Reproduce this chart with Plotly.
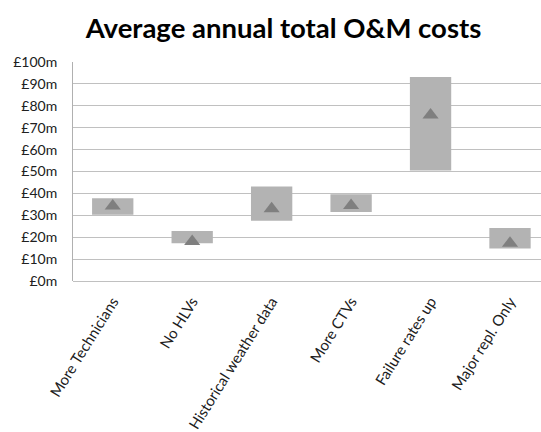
import plotly.graph_objects as go

# Scenario names and cost ranges (in £m)
scenarios = ["More Technicians", "No HLVs", "Historical weather data",
             "More CTVs", "Failure rates up", "Major repl. Only"]
cost_low = [30.3, 17.2, 27.5, 31.5, 50.4, 14.8]
cost_high = [37.8, 22.8, 43.1, 39.6, 93.2, 24.2]
cost_mean = [34.2, 18.0, 33.0, 34.5, 75.8, 17.2]

y_ticks = [0, 10, 20, 30, 40, 50, 60, 70, 80, 90, 100]
y_tick_text = [f"£{v}m" for v in y_ticks]

span = [h - l for h, l in zip(cost_high, cost_low)]

fig = go.Figure()
fig.add_trace(go.Bar(
    x=scenarios, y=span, base=cost_low, width=0.52,
    marker=dict(color="#b3b3b3", line=dict(width=0)),
    hoverinfo="skip",
))
fig.add_trace(go.Scatter(
    x=scenarios, y=cost_mean, mode="markers",
    marker=dict(symbol="triangle-up", size=14, color="#7f7f7f",
                line=dict(width=0)),
))

font_family = "Lato, 'Open Sans', sans-serif"
fig.update_layout(
    width=541, height=432,
    margin=dict(l=73, r=0, t=62, b=151),
    paper_bgcolor="white", plot_bgcolor="white",
    showlegend=False,
    title=dict(text="<b>Average annual total O&M costs</b>",
               x=0.524, xanchor="center", y=0.935, yanchor="middle",
               font=dict(family=font_family, size=27.5, color="#000000")),
    font=dict(family=font_family, size=14, color="#404040"),
)
fig.update_xaxes(
    range=[-0.5, 5.39], tickangle=-58, showgrid=False,
    showline=False, zeroline=False, ticks="", ticklabelstandoff=8,
    tickfont=dict(size=15, color="#202020"),
)
fig.update_yaxes(
    range=[0, 100], tickvals=y_ticks, ticktext=y_tick_text,
    showgrid=True, gridcolor="#c0c0c0", gridwidth=1,
    showline=True, linecolor="#b0b0b0", linewidth=1,
    zeroline=True, zerolinecolor="#c0c0c0", zerolinewidth=1,
    ticks="", ticklabelstandoff=12,
    tickfont=dict(size=14, color="#202020"),
)

fig.write_html("out.html")
